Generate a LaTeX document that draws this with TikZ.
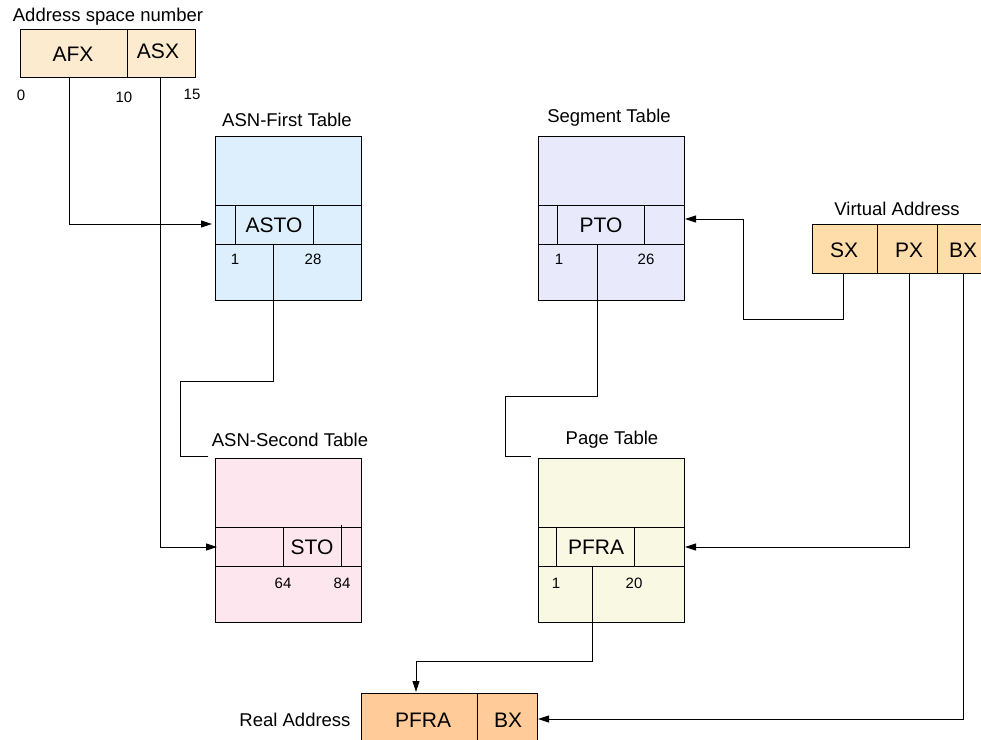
\documentclass[tikz,border=0pt]{standalone}
\usepackage{fontspec}
\setmainfont{Liberation Sans}
\usetikzlibrary{arrows.meta}
\definecolor{asnfill}{HTML}{FCEBCF}
\definecolor{firstfill}{HTML}{DDEFFD}
\definecolor{segfill}{HTML}{E8EAFC}
\definecolor{secondfill}{HTML}{FDE6ED}
\definecolor{pagefill}{HTML}{F8F8E3}
\definecolor{virtfill}{HTML}{FFDDAA}
\definecolor{realfill}{HTML}{FFCC99}
\begin{document}
\begin{tikzpicture}[x=1pt,y=-1pt,line width=1pt,
  >={Triangle[length=11pt,width=7pt]},
  box/.style={draw,inner sep=0pt,anchor=north west},
  big/.style={font=\fontsize{21}{23}\selectfont,inner sep=0pt},
  ttl/.style={font=\fontsize{18.5}{20}\selectfont,inner sep=0pt},
  num/.style={font=\fontsize{15}{17}\selectfont,inner sep=0pt}]
\useasboundingbox (0,0) rectangle (981,739);

% Address space number
\node[box,fill=asnfill,minimum width=175pt,minimum height=48pt] (asn) at (20,29) {};
\draw (127,29) -- (127,77);
\node[ttl] (asnt) at (108,17) {Address space number};
\node[big] (afx) at (73,54) {AFX};
\node[big] (asx) at (158,51) {ASX};
\node[num] (n0) at (21,95) {0};
\node[num] (n10) at (124,97) {10};
\node[num] (n15) at (192,94) {15};

% ASN-First Table
\node[box,fill=firstfill,minimum width=146pt,minimum height=164pt] (aft) at (215,136) {};
\draw (215,205) -- (361,205) (215,244) -- (361,244) (235,205) -- (235,244) (313,205) -- (313,244);
\node[ttl] (aftt) at (287,120) {ASN-First Table};
\node[big] (asto) at (274,225) {ASTO};
\node[num] (a1) at (235,259) {1};
\node[num] (a28) at (313,259) {28};

% Segment Table
\node[box,fill=segfill,minimum width=146pt,minimum height=164pt] (seg) at (538,136) {};
\draw (538,205) -- (684,205) (538,244) -- (684,244) (557,205) -- (557,244) (644,205) -- (644,244);
\node[ttl] (segt) at (609,118) {Segment Table};
\node[big] (pto) at (601,225) {PTO};
\node[num] (s1) at (559,259) {1};
\node[num] (s26) at (646,259) {26};

% Virtual Address
\node[box,fill=virtfill,minimum width=180pt,minimum height=49pt] (va) at (812,224) {};
\draw (877,224) -- (877,273) (937,224) -- (937,273);
\node[ttl] (vat) at (897,209) {Virtual Address};
\node[big] (sx) at (844,250) {SX};
\node[big] (px) at (909,250) {PX};
\node[big] (bx) at (963,250) {BX};

% ASN-Second Table
\node[box,fill=secondfill,minimum width=146pt,minimum height=164pt] (ast) at (215,458) {};
\draw (215,527) -- (361,527) (215,566) -- (361,566) (283,527) -- (283,566) (341,525) -- (341,566);
\node[ttl] (astt) at (290,440) {ASN-Second Table};
\node[big] (sto) at (312,547) {STO};
\node[num] (b64) at (283,583) {64};
\node[num] (b84) at (342,583) {84};

% Page Table
\node[box,fill=pagefill,minimum width=146pt,minimum height=164pt] (pag) at (538,458) {};
\draw (538,527) -- (684,527) (538,566) -- (684,566) (556,527) -- (556,566) (634,527) -- (634,566);
\node[ttl] (pagt) at (612,440) {Page Table};
\node[big] (pfra) at (596,547) {PFRA};
\node[num] (p1) at (556,583) {1};
\node[num] (p20) at (634,583) {20};

% Real Address
\node[box,fill=realfill,minimum width=176pt,minimum height=60pt] (ra) at (361,693) {};
\draw (477,693) -- (477,753);
\node[ttl] (rat) at (295,720) {Real Address};
\node[big] (rpfra) at (423,720) {PFRA};
\node[big] (rbx) at (508,720) {BX};

% ports
\coordinate (afxout) at (69,77);
\coordinate (asxout) at (160,77);
\coordinate (astoout) at (273,244);
\coordinate (ptoout) at (597,244);
\coordinate (pfraout) at (592,566);
\coordinate (sxout) at (843,273);
\coordinate (pxout) at (909,273);
\coordinate (bxout) at (963,273);
\coordinate (aftin) at (212,224);
\coordinate (astin) at (217,547);
\coordinate (astend) at (208,456);
\coordinate (pagend) at (531,456);
\coordinate (segin) at (685,219);
\coordinate (pagin) at (685,547);
\coordinate (rain) at (416,692);
\coordinate (rabxin) at (538,719);

% connectors
\draw[->] (afxout) |- (aftin);
\draw[->] (asxout) |- (astin);
\draw (astoout) -- (273,381) -- (180,381) |- (astend);
\draw (ptoout) -- (597,396) -- (505,396) |- (pagend);
\draw[->] (sxout) -- (843,319) -- (743,319) |- (segin);
\draw[->] (pxout) |- (pagin);
\draw[->] (bxout) |- (rabxin);
\draw[->] (pfraout) -- (592,661) -| (rain);
\end{tikzpicture}
\end{document}
